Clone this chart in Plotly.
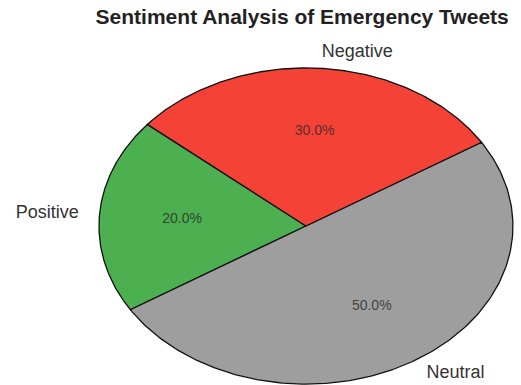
import numpy as np
import plotly.graph_objects as go

# Sentiment shares of emergency tweets
labels = ["Positive", "Neutral", "Negative"]
values = [20, 50, 30]
colors = ["#4CAF50", "#9E9E9E", "#F44336"]
start_angle = 140  # degrees, slices run counterclockwise

total = float(sum(values))
fig = go.Figure()

angle = start_angle
for lab, val, col in zip(labels, values, colors):
    span = 360.0 * val / total
    theta = np.radians(np.linspace(angle, angle + span, 200))
    xs = np.concatenate([[0.0], np.cos(theta), [0.0]])
    ys = np.concatenate([[0.0], np.sin(theta), [0.0]])
    fig.add_trace(go.Scatter(
        x=xs, y=ys, mode="lines", fill="toself", fillcolor=col,
        line=dict(color="#111111", width=1.3), hoverinfo="skip",
        showlegend=False,
    ))

    mid = np.radians(angle + span / 2)
    # category label just outside the rim
    lx, ly = 1.1 * np.cos(mid), 1.1 * np.sin(mid)
    fig.add_trace(go.Scatter(
        x=[lx], y=[ly], mode="text", text=[lab],
        textposition="middle right" if lx >= 0 else "middle left",
        textfont=dict(family="Liberation Sans, Arial, sans-serif", size=18, color="#333333"),
        hoverinfo="skip", showlegend=False,
    ))
    # percentage inside the slice
    px, py = 0.6 * np.cos(mid), 0.6 * np.sin(mid)
    fig.add_trace(go.Scatter(
        x=[px], y=[py], mode="text", text=[f"{100 * val / total:.1f}%"],
        textposition="middle center",
        textfont=dict(family="Liberation Sans, Arial, sans-serif", size=14, color="rgba(40,40,40,0.8)"),
        hoverinfo="skip", showlegend=False,
    ))
    angle += span

fig.update_layout(
    width=521, height=385,
    margin=dict(l=0, r=0, t=0, b=0),
    paper_bgcolor="white", plot_bgcolor="white",
    title=dict(
        text="<b>Sentiment Analysis of Emergency Tweets</b>",
        x=0.58, xanchor="center", y=0.958, yanchor="middle", yref="container",
        font=dict(family="Liberation Sans, Arial, sans-serif", size=21, color="#222222"),
    ),
    xaxis=dict(range=[-1.478, 1.039], visible=False, fixedrange=True),
    yaxis=dict(range=[-1.006, 1.430], visible=False, fixedrange=True),
    hovermode=False,
)

fig.write_html("out.html")
